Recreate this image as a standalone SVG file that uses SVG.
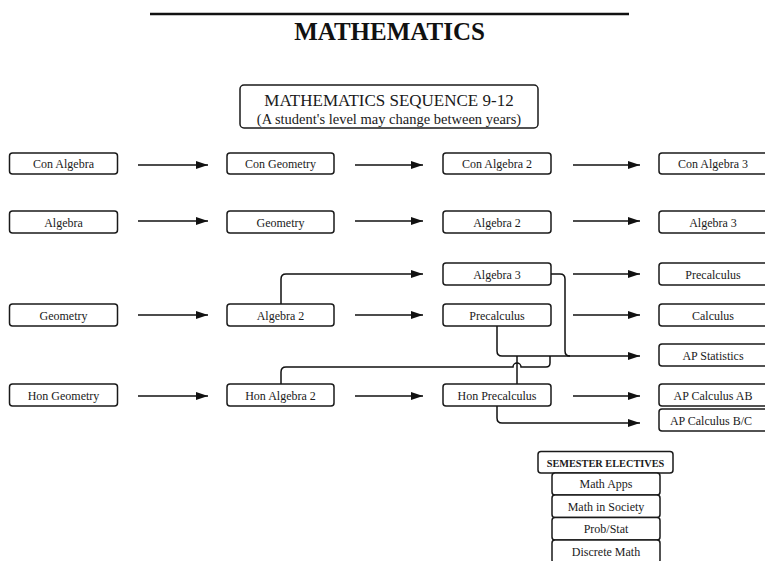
<svg xmlns="http://www.w3.org/2000/svg" width="765" height="561" viewBox="0 0 765 561">
<style>
.bx{fill:#fff;stroke:#1a1a1a;stroke-width:1.5}
.t{font-family:"Liberation Serif","Times New Roman",serif;font-size:12px;fill:#1a1a1a;text-anchor:middle}
.c{fill:none;stroke:#111;stroke-width:1.5}
</style>
<defs>
<marker id="ah" markerWidth="12" markerHeight="8" refX="12" refY="4" orient="auto" markerUnits="userSpaceOnUse"><path d="M0,0 L12,4 L0,8 z" fill="#111"/></marker>
</defs>
<rect width="765" height="561" fill="#fff"/>
<line x1="150" y1="14" x2="629" y2="14" stroke="#111" stroke-width="2.5"/>
<text x="389.5" y="40" font-family="Liberation Serif,serif" font-weight="bold" font-size="25" text-anchor="middle" fill="#111">MATHEMATICS</text>
<g id="header">
<rect class="bx" x="240" y="85" width="298" height="43" rx="4"/>
<text class="t" x="389" y="106" style="font-size:17px">MATHEMATICS SEQUENCE 9-12</text>
<text class="t" x="389" y="124" style="font-size:14.5px">(A student's level may change between years)</text>
</g>
<g id="connectors">
<path class="c" marker-end="url(#ah)" d="M138,165 H208"/>
<path class="c" marker-end="url(#ah)" d="M355,165 H423"/>
<path class="c" marker-end="url(#ah)" d="M573,165 H640"/>
<path class="c" marker-end="url(#ah)" d="M138,221 H208"/>
<path class="c" marker-end="url(#ah)" d="M355,221 H423"/>
<path class="c" marker-end="url(#ah)" d="M573,221 H640"/>
<path class="c" marker-end="url(#ah)" d="M281,304 V279 Q281,274 286,274 H423"/>
<path class="c" marker-end="url(#ah)" d="M573,274 H640"/>
<path class="c" marker-end="url(#ah)" d="M138,315 H208"/>
<path class="c" marker-end="url(#ah)" d="M355,315 H423"/>
<path class="c" marker-end="url(#ah)" d="M573,315 H640"/>
<path class="c" marker-end="url(#ah)" d="M497,326 V351 Q497,356 502,356 H640"/>
<path class="c" d="M551,274 H560 Q565,274 565,279 V351 Q565,356 570,356"/>
<path class="c" d="M517,384 V356"/>
<path class="c" d="M281,384 V372 Q281,367 286,367 H513 A4,4 0 0 1 521,367 H546 Q550,367 550,363 V356"/>
<path class="c" marker-end="url(#ah)" d="M138,396 H208"/>
<path class="c" marker-end="url(#ah)" d="M355,396 H423"/>
<path class="c" marker-end="url(#ah)" d="M573,396 H640"/>
<path class="c" marker-end="url(#ah)" d="M497,406 V418 Q497,423 502,423 H640"/>
</g>
<g id="con-algebra"><rect class="bx" x="9.5" y="153" width="108" height="21" rx="3"/><text class="t" x="63.5" y="168">Con Algebra</text></g>
<g id="con-geometry"><rect class="bx" x="227" y="153" width="107" height="21" rx="3"/><text class="t" x="280.5" y="168">Con Geometry</text></g>
<g id="con-algebra-2"><rect class="bx" x="443" y="153" width="108" height="21" rx="3"/><text class="t" x="497" y="168">Con Algebra 2</text></g>
<g id="con-algebra-3"><rect class="bx" x="659" y="153" width="110" height="21" rx="3"/><text class="t" x="713" y="168">Con Algebra 3</text></g>
<g id="algebra"><rect class="bx" x="9.5" y="211" width="108" height="22" rx="3"/><text class="t" x="63.5" y="226.5">Algebra</text></g>
<g id="geometry"><rect class="bx" x="227" y="211" width="107" height="22" rx="3"/><text class="t" x="280.5" y="226.5">Geometry</text></g>
<g id="algebra-2"><rect class="bx" x="443" y="211" width="108" height="22" rx="3"/><text class="t" x="497" y="226.5">Algebra 2</text></g>
<g id="algebra-3"><rect class="bx" x="659" y="211" width="110" height="22" rx="3"/><text class="t" x="713" y="226.5">Algebra 3</text></g>
<g id="algebra-3b"><rect class="bx" x="443" y="263" width="108" height="22" rx="3"/><text class="t" x="497" y="278.5">Algebra 3</text></g>
<g id="precalculus-4"><rect class="bx" x="659" y="263" width="110" height="22" rx="3"/><text class="t" x="713" y="278.5">Precalculus</text></g>
<g id="geometry-b"><rect class="bx" x="9.5" y="304" width="108" height="22" rx="3"/><text class="t" x="63.5" y="319.5">Geometry</text></g>
<g id="algebra-2b"><rect class="bx" x="227" y="304" width="107" height="22" rx="3"/><text class="t" x="280.5" y="319.5">Algebra 2</text></g>
<g id="precalculus"><rect class="bx" x="443" y="304" width="108" height="22" rx="3"/><text class="t" x="497" y="319.5">Precalculus</text></g>
<g id="calculus"><rect class="bx" x="659" y="304" width="110" height="22" rx="3"/><text class="t" x="713" y="319.5">Calculus</text></g>
<g id="ap-statistics"><rect class="bx" x="659" y="344" width="110" height="22" rx="3"/><text class="t" x="713" y="359.5">AP Statistics</text></g>
<g id="hon-geometry"><rect class="bx" x="9.5" y="384" width="108" height="22" rx="3"/><text class="t" x="63.5" y="399.5">Hon Geometry</text></g>
<g id="hon-algebra-2"><rect class="bx" x="227" y="384" width="107" height="22" rx="3"/><text class="t" x="280.5" y="399.5">Hon Algebra 2</text></g>
<g id="hon-precalculus"><rect class="bx" x="443" y="384" width="108" height="22" rx="3"/><text class="t" x="497" y="399.5">Hon Precalculus</text></g>
<g id="ap-calculus-ab"><rect class="bx" x="659" y="384" width="110" height="22" rx="3"/><text class="t" x="713" y="399.5">AP Calculus AB</text></g>
<g id="ap-calculus-bc"><rect class="bx" x="659" y="409" width="110" height="22" rx="3"/><text class="t" x="711" y="424.5">AP Calculus B/C</text></g>
<g id="semester-electives"><rect class="bx" x="538" y="451.5" width="135" height="21.5" rx="3"/><text class="t" x="605.5" y="466.5" style="font-size:10.3px;font-weight:bold">SEMESTER ELECTIVES</text></g>
<g id="math-apps"><rect class="bx" x="552" y="473" width="108" height="22" rx="3"/><text class="t" x="606" y="488">Math Apps</text></g>
<g id="math-in-society"><rect class="bx" x="552" y="495" width="108" height="22.5" rx="3"/><text class="t" x="606" y="510.5">Math in Society</text></g>
<g id="prob-stat"><rect class="bx" x="552" y="517.5" width="108" height="22.5" rx="3"/><text class="t" x="606" y="533">Prob/Stat</text></g>
<g id="discrete-math"><rect class="bx" x="552" y="540" width="108" height="23" rx="3"/><text class="t" x="606" y="555.5">Discrete Math</text></g>
</svg>
